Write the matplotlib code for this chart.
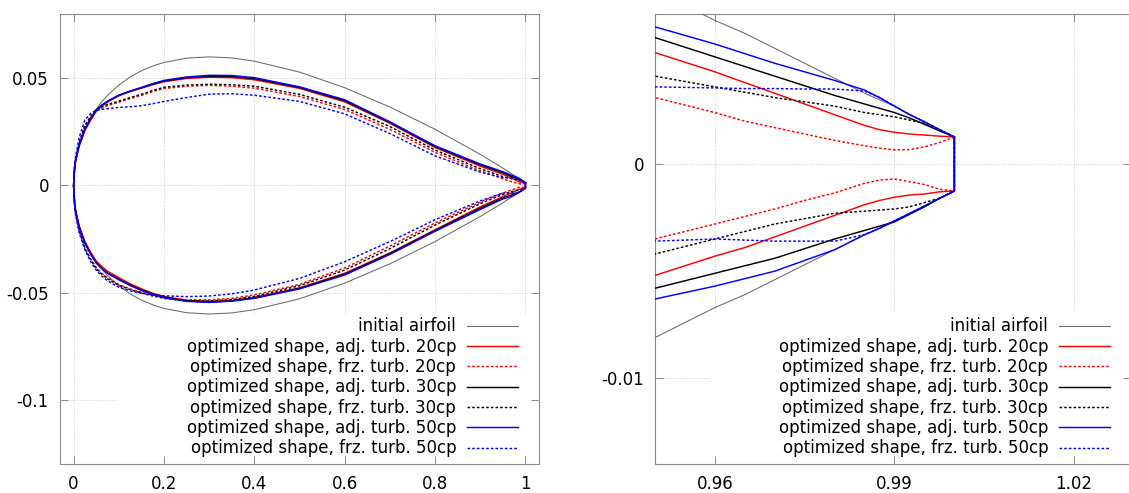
import matplotlib
matplotlib.use("Agg")
import matplotlib.pyplot as plt
from matplotlib.patches import Rectangle

plt.rcParams['font.family'] = ['DejaVu Sans']
plt.rcParams['axes.unicode_minus'] = False

# chordwise stations shared by all contours
xc = [0.0, 0.0025, 0.005, 0.0125, 0.025, 0.0375, 0.05, 0.0625, 0.075, 0.1, 0.125, 0.15, 0.175,
      0.2, 0.25, 0.3, 0.35, 0.4, 0.5, 0.6, 0.7, 0.8, 0.9, 0.95, 0.96, 0.965, 0.97, 0.975,
      0.98, 0.985, 0.9875, 0.99, 0.9925, 0.995, 0.9975, 1.0]

# initial airfoil
init_up = [0.0, 0.0087, 0.0122, 0.0189, 0.0262, 0.0314, 0.0356, 0.0390, 0.0420, 0.0468, 0.0506,
           0.0535, 0.0557, 0.0574, 0.0594, 0.0600, 0.0595, 0.0580, 0.0529, 0.0456, 0.0366,
           0.0262, 0.0145, 0.0081, 0.0067, 0.0061, 0.0054, 0.0047, 0.0040, 0.0033, 0.0030,
           0.0027, 0.0023, 0.0020, 0.0016, 0.00126]
init_lo = [0.0, -0.0087, -0.0122, -0.0189, -0.0262, -0.0314, -0.0356, -0.0390, -0.0420, -0.0468,
           -0.0506, -0.0535, -0.0557, -0.0574, -0.0594, -0.0600, -0.0595, -0.0580, -0.0529,
           -0.0456, -0.0366, -0.0262, -0.0145, -0.0081, -0.0067, -0.0061, -0.0054, -0.0047,
           -0.0040, -0.0033, -0.0030, -0.0027, -0.0023, -0.0020, -0.0016, -0.00126]

# adjoint turbulence, 20 control points
adj20_up = [0.0, 0.0083, 0.0117, 0.0183, 0.0255, 0.0303, 0.0345, 0.0370, 0.0389, 0.0418, 0.0438,
            0.0453, 0.0470, 0.0484, 0.0499, 0.0505, 0.0503, 0.0493, 0.0453, 0.0390, 0.0290,
            0.0177, 0.0090, 0.0052, 0.0043, 0.0038, 0.0033, 0.0028, 0.0023, 0.0018, 0.0016,
            0.00148, 0.0014, 0.00135, 0.0013, 0.00126]
adj20_lo = [0.0, -0.0086, -0.0122, -0.0190, -0.0262, -0.0310, -0.0352, -0.0378, -0.0400, -0.0430,
            -0.0459, -0.0482, -0.0503, -0.0518, -0.0536, -0.0541, -0.0537, -0.0523, -0.0478,
            -0.0410, -0.0315, -0.0207, -0.0100, -0.0052, -0.0043, -0.0039, -0.0034, -0.0029,
            -0.0024, -0.0019, -0.0017, -0.00155, -0.00145, -0.0014, -0.0013, -0.00126]

# frozen turbulence, 20 control points
frz20_up = [0.0, 0.0090, 0.0126, 0.0197, 0.0275, 0.0318, 0.0348, 0.0362, 0.0372, 0.0388, 0.0405,
            0.0420, 0.0438, 0.0452, 0.0463, 0.0467, 0.0463, 0.0454, 0.0415, 0.0354, 0.0262,
            0.0154, 0.0068, 0.0031, 0.0024, 0.0020, 0.0017, 0.0014, 0.0011, 0.00085, 0.00074,
            0.00066, 0.00067, 0.0008, 0.0010, 0.00126]
frz20_lo = [0.0, -0.0094, -0.0133, -0.0208, -0.0290, -0.0340, -0.0382, -0.0410, -0.0430, -0.0462,
            -0.0483, -0.0498, -0.0512, -0.0523, -0.0533, -0.0534, -0.0527, -0.0511, -0.0462,
            -0.0385, -0.0283, -0.0175, -0.0078, -0.0035, -0.0028, -0.00245, -0.0021, -0.0017,
            -0.00135, -0.0009, -0.00075, -0.0007, -0.00082, -0.00096, -0.00118, -0.00126]

# adjoint turbulence, 30 control points
adj30_up = [0.0, 0.0086, 0.0121, 0.0189, 0.0262, 0.0310, 0.0352, 0.0375, 0.0393, 0.0421, 0.0440,
            0.0456, 0.0473, 0.0487, 0.0503, 0.0509, 0.0508, 0.0498, 0.0457, 0.0395, 0.0294,
            0.0181, 0.0096, 0.0059, 0.0050, 0.00455, 0.0041, 0.00365, 0.0032, 0.0028, 0.0026,
            0.0024, 0.00215, 0.00185, 0.00155, 0.00126]
adj30_lo = [0.0, -0.0088, -0.0125, -0.0194, -0.0268, -0.0318, -0.0360, -0.0386, -0.0408, -0.0437,
            -0.0464, -0.0487, -0.0506, -0.0521, -0.0539, -0.0544, -0.0539, -0.0525, -0.0480,
            -0.0414, -0.0318, -0.0210, -0.0106, -0.0058, -0.0051, -0.00475, -0.0044, -0.00395,
            -0.0035, -0.0031, -0.0029, -0.0027, -0.00235, -0.0020, -0.0016, -0.00126]

# frozen turbulence, 30 control points
frz30_up = [0.0, 0.0092, 0.0128, 0.0200, 0.0280, 0.0322, 0.0352, 0.0368, 0.0378, 0.0393, 0.0410,
            0.0425, 0.0443, 0.0458, 0.0468, 0.0472, 0.0470, 0.0463, 0.0425, 0.0365, 0.0275,
            0.0165, 0.0078, 0.0041, 0.0036, 0.00335, 0.0031, 0.0029, 0.0027, 0.0024, 0.0023,
            0.0022, 0.00205, 0.0019, 0.0016, 0.00126]
frz30_lo = [0.0, -0.0096, -0.0136, -0.0212, -0.0295, -0.0346, -0.0388, -0.0414, -0.0436, -0.0466,
            -0.0486, -0.0502, -0.0516, -0.0527, -0.0538, -0.0539, -0.0533, -0.0518, -0.0468,
            -0.0395, -0.0295, -0.0185, -0.0085, -0.0042, -0.0035, -0.00315, -0.0028, -0.00255,
            -0.0023, -0.0022, -0.00215, -0.0021, -0.0020, -0.0018, -0.0016, -0.00126]

# adjoint turbulence, 50 control points
adj50_up = [0.0, 0.0087, 0.0122, 0.0190, 0.0262, 0.0310, 0.0350, 0.0374, 0.0392, 0.0420, 0.0440,
            0.0457, 0.0475, 0.0490, 0.0506, 0.0514, 0.0513, 0.0503, 0.0460, 0.0400, 0.0297,
            0.0185, 0.0100, 0.0064, 0.0056, 0.00515, 0.0047, 0.0043, 0.0039, 0.00345, 0.0031,
            0.0027, 0.00231, 0.00196, 0.00161, 0.00126]
adj50_lo = [0.0, -0.0089, -0.0126, -0.0196, -0.0270, -0.0320, -0.0362, -0.0389, -0.0410, -0.0440,
            -0.0467, -0.0490, -0.0509, -0.0524, -0.0541, -0.0546, -0.0540, -0.0527, -0.0483,
            -0.0418, -0.0322, -0.0214, -0.0112, -0.0063, -0.0057, -0.00535, -0.0050, -0.0045,
            -0.0040, -0.0033, -0.0030, -0.00265, -0.00231, -0.00196, -0.00161, -0.00126]

# frozen turbulence, 50 control points
frz50_up = [0.0, 0.0100, 0.0140, 0.0225, 0.0305, 0.0335, 0.0350, 0.0355, 0.0358, 0.0364, 0.0367,
            0.0372, 0.0381, 0.0392, 0.0410, 0.0426, 0.0428, 0.0421, 0.0392, 0.0334, 0.0242,
            0.0138, 0.0062, 0.0036, 0.00355, 0.00352, 0.00352, 0.0035, 0.0035, 0.0034, 0.0031,
            0.0027, 0.00231, 0.00196, 0.00161, 0.00126]
frz50_lo = [0.0, -0.0100, -0.0142, -0.0222, -0.0300, -0.0355, -0.0395, -0.0423, -0.0445, -0.0475,
            -0.0492, -0.0503, -0.0510, -0.0515, -0.0519, -0.0516, -0.0506, -0.0488, -0.0434,
            -0.0356, -0.0262, -0.0160, -0.0072, -0.0036, -0.0035, -0.00355, -0.0036, -0.0036,
            -0.0036, -0.0033, -0.0030, -0.00265, -0.00231, -0.00196, -0.00161, -0.00126]

labels = ['initial airfoil',
          'optimized shape, adj. turb. 20cp',
          'optimized shape, frz. turb. 20cp',
          'optimized shape, adj. turb. 30cp',
          'optimized shape, frz. turb. 30cp',
          'optimized shape, adj. turb. 50cp',
          'optimized shape, frz. turb. 50cp']

left_xticks = [0, 0.2, 0.4, 0.6, 0.8, 1]
left_xticklabels = ['0', '0.2', '0.4', '0.6', '0.8', '1']
left_yticks = [-0.1, -0.05, 0, 0.05]
left_yticklabels = ['-0.1', '-0.05', '0', '0.05']
right_xticks = [0.96, 0.99, 1.02]
right_xticklabels = ['0.96', '0.99', '1.02']
right_yticks = [-0.01, 0]
right_yticklabels = ['-0.01', '0']

curves = [(init_up, init_lo), (adj20_up, adj20_lo), (frz20_up, frz20_lo),
          (adj30_up, adj30_lo), (frz30_up, frz30_lo), (adj50_up, adj50_lo),
          (frz50_up, frz50_lo)]

dash = (0, (1.8, 1.4))
styles = [dict(color='#6a6a6a', lw=0.75, ls='-'),
          dict(color='#ff0000', lw=1.05, ls='-'),
          dict(color='#ff0000', lw=1.05, ls=dash),
          dict(color='#000000', lw=1.05, ls='-'),
          dict(color='#000000', lw=1.05, ls=dash),
          dict(color='#0000ff', lw=1.05, ls='-'),
          dict(color='#0000ff', lw=1.05, ls=dash)]


def contour(up, lo):
    # trailing edge -> leading edge along the upper side, back along the lower side,
    # then close the blunt trailing edge
    xs = xc[::-1] + xc[1:] + [xc[-1]]
    ys = up[::-1] + lo[1:] + [up[-1]]
    return xs, ys


fig = plt.figure(figsize=(11.29, 4.93), dpi=100)
W, H = 1129.0, 493.0
axL = fig.add_axes([60 / W, 29 / H, 479 / W, 450 / H])
axR = fig.add_axes([655 / W, 29 / H, 476 / W, 450 / H])

axis_gray = '#8a8a8a'

for ax, xl, yl, xt, xtl, yt, ytl, box in [
        (axL, (-0.03, 1.03), (-0.13, 0.08), left_xticks, left_xticklabels,
         left_yticks, left_yticklabels, (0.119, 0.331)),
        (axR, (0.95, 1.0295), (-0.014, 0.007), right_xticks, right_xticklabels,
         right_yticks, right_yticklabels, (0.1155, 0.336))]:
    handles = []
    for (up, lo), st, lab in zip(curves, styles, labels):
        xs, ys = contour(up, lo)
        h, = ax.plot(xs, ys, color=st['color'], lw=st['lw'], ls=st['ls'],
                     label=lab, zorder=3)
        handles.append(h)
    ax.set_xlim(*xl)
    ax.set_ylim(*yl)
    ax.set_xticks(xt)
    ax.set_xticklabels(xtl)
    ax.set_yticks(yt)
    ax.set_yticklabels(ytl)
    ax.set_axisbelow(True)
    ax.grid(True, color='#cfcfcf', linestyle=(0, (1, 1.5)), linewidth=0.7)
    ax.tick_params(direction='in', length=5.8, width=0.7, color=axis_gray,
                   top=True, right=True, labelsize=12, pad=8, labelcolor='black')
    for sp in ax.spines.values():
        sp.set_color(axis_gray)
        sp.set_linewidth(0.8)
    # opaque key background hiding the grid beneath the legend
    tickw = 8.5 / (ax.get_position().width * W)
    tickh = 8.5 / (ax.get_position().height * H)
    ax.add_patch(Rectangle((box[0], tickh), 1 - tickw - box[0], box[1] - tickh,
                           transform=ax.transAxes, facecolor='white', edgecolor='none',
                           zorder=1))
    leg = ax.legend(handles=handles, loc='lower right', bbox_to_anchor=(0.970, 0.0),
                    markerfirst=False, frameon=False, fontsize=12, handlelength=3.05,
                    handletextpad=0.66, labelspacing=0.14, borderaxespad=0.0,
                    borderpad=0.4)
    leg.set_zorder(5)

fig.savefig('out.png', dpi=100)
